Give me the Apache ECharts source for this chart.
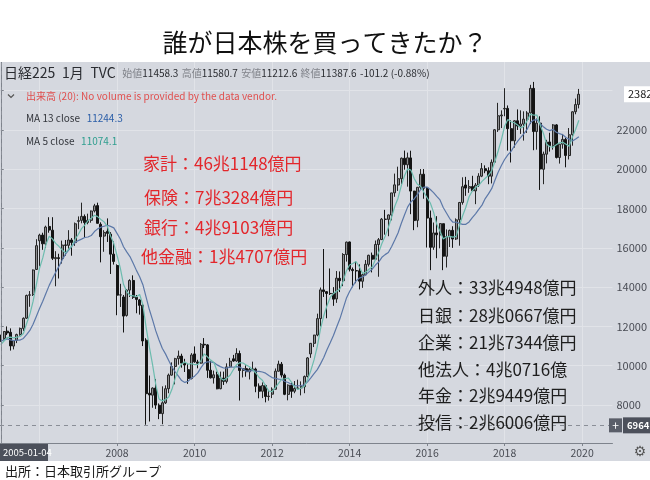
<!DOCTYPE html>
<html><head><meta charset="utf-8">
<script src="https://cdn.jsdelivr.net/npm/echarts@6/dist/echarts.min.js"></script>
<style>html,body{margin:0;padding:0;background:#fff}#c{width:650px;height:480px}</style>
</head><body><div id="c"></div>
<script>
// ---------- DATA (Nikkei 225, monthly, TVC) ----------
const FIRST_YEAR = 2005;
// 2004 closes, needed for the moving averages at the left edge
const priorCloses = [10783.6,11041.9,11715.4,11761.8,11236.4,11858.9,11325.8,11081.8,10823.6,10771.4,10899.3,11488.8];

const opens = [
 11458.3,11390,11760,11700,11000,11290,11590,11900,12420,13590,13620,14900,
 16360,16650,16200,17090,16900,15450,15500,15460,16150,16130,16400,16270,
 17350,17400,17600,17290,17400,17880,18150,17200,16600,16840,16700,15680,
 15100,13600,13500,12560,13850,14340,13480,13350,13080,11300,8600,8500,
 8860,7990,7560,8110,8830,9520,9960,10360,10490,10130,9800,9350,
 10600,10190,10130,11090,11060,9770,9380,9540,8830,9370,9200,9940,
 10350,10240,10620,9760,9850,9690,9820,9830,8960,8700,8990,8430,
 8550,8800,9720,10080,9520,8540,9000,8700,8840,8870,8930,9450,
 10600,11140,11560,12400,13860,13770,13680,13670,13400,14450,14330,15660,
 16300,14900,14840,14830,14300,14630,15160,15620,15420,16170,16420,17460,
 17450,17670,18800,19200,19520,20560,20230,20580,18890,17400,19080,19750,
 19030,17520,16030,16760,16660,17230,15570,16560,16890,16450,17430,18310,
 19200,19040,19120,18900,19200,19650,20030,19925,19650,20360,22010,22720,
 23070,23100,22070,21450,22470,22200,22300,22550,22870,24120,21920,22350,
 20000,20770,21390,21200,22260,20600,21280,21520,20700,21760,22930,23300
];
const highs = [
 11580.7,11760,12000,11900,11300,11630,11940,12460,13620,13800,14900,16440,
 16720,16770,17130,17560,17560,15830,15700,16370,16400,16900,16500,17290,
 17600,18300,17700,17740,17900,18240,18300,17300,16900,17500,16800,16330,
 15160,14170,13600,13900,14400,14600,13600,13400,13150,11400,9500,8900,
 9325,8080,8950,9000,9600,10170,10400,10770,10610,10350,10100,10640,
 10982,10300,11150,11408,11100,10250,9750,9700,9700,9700,10120,10400,
 10550,10890,10770,9870,10017,9890,10207,9900,9100,9150,9030,8760,
 8900,9860,10255,10190,9600,9050,9140,9220,9290,9200,9500,10440,
 11150,11570,12650,13980,15942,13800,14950,14000,14820,14800,15730,16320,
 16320,15000,15300,15160,14700,15380,15650,15760,16374,16500,17520,17935,
 17700,18800,19780,20133,20600,20953,20850,20946,18900,19100,20012,20012,
 19100,17900,17290,17613,17251,17235,16938,16930,17100,17500,18340,19592,
 19615,19450,19668,19300,19800,20318,20200,20100,20500,22050,23382,23000,
 24129,23250,22500,22500,23050,23000,22950,22960,24300,24448,22583,22700,
 20900,21500,21860,22300,22300,21300,21800,21600,22100,22950,23600,24091
];
const lows = [
 11212.6,11290,11560,10770,10830,11150,11530,11770,12380,13000,13550,14880,
 15060,15900,15990,16770,15380,14045,14440,15200,15600,15950,15600,16100,
 16950,17250,16530,17200,17280,17800,17240,15262,15800,16300,14670,15150,
 12570,12990,11690,12500,13500,13400,12670,12600,11000,6995,7160,7860,
 7800,7280,7021,8050,8600,9500,9050,10050,9900,9680,9076,9300,
 10150,9867,10100,10900,9380,9350,9090,8800,8800,9020,9100,9900,
 10200,10200,8227,9400,9440,9300,9770,8650,8340,8350,8135,8220,
 8350,8800,9700,9400,8500,8238,8365,8600,8780,8490,8600,9400,
 10400,10950,11500,12000,13500,12415,13600,13050,13200,13750,14050,15300,
 14800,13995,14200,13885,13964,14600,15050,14750,15400,14529,16400,16672,
 16592,17400,18600,18900,19250,19980,19115,17714,16901,17050,19000,18500,
 16017,14865,15900,15471,15975,14864,15000,16044,16000,16400,16111,18200,
 18650,18800,18900,18224,19100,19600,19800,19240,19280,20350,21900,22100,
 22700,20950,20347,21100,22000,21800,21460,21850,22300,20971,21000,18949,
 19241,20300,20900,21000,20552,20290,21050,20100,20500,21200,22800,23100
];
const closes = [
 11387.6,11740.6,11668.9,11008.9,11276.6,11584.0,11899.6,12413.6,13574.3,13606.5,14872.2,16111.4,
 16649.8,16205.4,17059.7,16906.2,15467.3,15505.2,15456.8,16140.8,16127.6,16399.4,16274.3,17225.8,
 17383.4,17604.1,17287.7,17400.4,17875.8,18138.4,17248.9,16569.1,16785.7,16737.6,15680.7,15307.8,
 13592.5,13603.0,12525.5,13849.9,14338.5,13481.4,13376.8,13072.9,11259.9,8577.0,8512.3,8859.6,
 7994.1,7568.4,8109.5,8828.3,9522.5,9958.4,10356.8,10492.5,10133.2,10034.7,9345.6,10546.4,
 10198.0,10126.0,11089.9,11057.4,9768.7,9382.6,9537.3,8824.1,9369.4,9202.5,9937.0,10228.9,
 10237.9,10624.1,9755.1,9849.7,9693.7,9816.1,9833.0,8955.2,8700.3,8988.4,8434.6,8455.4,
 8802.5,9723.2,10083.6,9520.9,8542.7,9006.8,8695.1,8839.9,8870.2,8928.3,9446.0,10395.2,
 11138.7,11559.4,12397.9,13860.9,13774.5,13677.3,13668.3,13388.9,14455.8,14327.9,15661.9,16291.3,
 14914.5,14841.1,14827.8,14304.1,14632.4,15162.1,15620.8,15424.6,16173.5,16413.8,17459.9,17450.8,
 17674.4,18797.9,19207.0,19520.0,20563.2,20235.7,20585.2,18890.5,17388.2,19083.1,19747.5,19033.7,
 17518.3,16026.8,16758.7,16666.1,17235.0,15575.9,16569.3,16887.4,16449.8,17425.0,18308.5,19114.4,
 19041.3,19119.0,18909.3,19196.7,19650.6,20033.4,19925.2,19646.2,20356.3,22011.6,22725.0,22764.9,
 23098.3,22068.2,21454.3,22467.9,22201.8,22304.5,22553.7,22865.2,24120.0,21920.5,22351.1,20014.8,
 20773.5,21385.2,21205.8,22258.7,20601.2,21275.9,21521.5,20704.4,21755.8,22927.0,23293.9,23820.0
];
const maLengths = [13, 5];
const crosshairPrice = 6964;
const crosshairDate = '2005-01-04';
const xTickYears = [2006, 2008, 2010, 2012, 2014, 2016, 2018, 2020];
const xLabelYears = [2008, 2010, 2012, 2014, 2016, 2018, 2020];
const yTickValues = [8000, 10000, 12000, 14000, 16000, 18000, 20000, 22000, 24000];
const yLabelValues = [8000, 10000, 12000, 14000, 16000, 18000, 20000, 22000];
const titleText = '誰が日本株を買ってきたか？';
const sourceText = '出所：日本取引所グループ';
const volumeText = '出来高 (20): No volume is provided by the data vendor.';
const leftNotes = ['家計：46兆1148億円', '保険：7兆3284億円', '銀行：4兆9103億円', '他金融：1兆4707億円'];
const rightNotes = ['外人：33兆4948億円', '日銀：28兆0667億円', '企業：21兆7344億円', '他法人：4兆0716億', '年金：2兆9449億円', '投信：2兆6006億円'];

// ---------- derived ----------
function sma(n) {
  const all = priorCloses.concat(closes);
  return closes.map((_, i) => {
    const end = i + priorCloses.length;
    let s = 0;
    for (let k = end - n + 1; k <= end; k++) s += all[k];
    return [i, s / n];
  });
}
const ma13 = sma(maLengths[0]);
const ma5 = sma(maLengths[1]);
const candleData = closes.map((c, i) => [i, opens[i], c, lows[i], highs[i]]);
const toMonth = y => (y - FIRST_YEAR) * 12;

const FONT = '"Noto Sans CJK JP", "Noto Sans", sans-serif';
const BG = '#d5d8df';
const GRIDLINE = '#e1e3e8';
const AXIS = '#7e838c';
const GRID = { left: 0, right: 27, top: 62, bottom: 37 };

const chart = echarts.init(document.getElementById('c'), null, { renderer: 'canvas', width: 650, height: 480 });
chart.setOption({
  animation: false,
  backgroundColor: BG,
  grid: GRID,
  xAxis: {
    type: 'value', min: -0.24, max: 189.4,
    axisLine: { show: true, onZero: false, lineStyle: { color: AXIS } },
    axisTick: { show: true, customValues: xTickYears.map(toMonth), length: 3, lineStyle: { color: AXIS } },
    axisLabel: { customValues: xLabelYears.map(toMonth), formatter: v => String(FIRST_YEAR + Math.round(v / 12)),
      color: '#4a4d55', fontSize: 10.5, fontFamily: FONT, margin: 5 },
    splitLine: { show: true, lineStyle: { color: GRIDLINE, width: 1 } }
  },
  yAxis: {
    type: 'value', position: 'right', min: 6065, max: 25462,
    axisLine: { show: true, lineStyle: { color: AXIS } },
    axisTick: { show: true, inside: false, customValues: yTickValues, length: 3, lineStyle: { color: AXIS } },
    axisLabel: { customValues: yLabelValues, formatter: v => String(v), color: '#4a4d55', fontSize: 11, fontFamily: FONT, margin: 4 },
    splitLine: { show: true, lineStyle: { color: GRIDLINE, width: 1 } }
  },
  series: [
    {
      type: 'candlestick', data: candleData, barWidth: 2.5, clip: true,
      itemStyle: { color: '#8e8f92', color0: '#141414', borderColor: '#262626', borderColor0: '#141414', borderWidth: 1 },
      markLine: {
        silent: true, symbol: 'none', animation: false,
        lineStyle: { color: '#8a8e97', type: [4, 4], width: 1 },
        label: { show: false },
        data: [{ yAxis: crosshairPrice }, { xAxis: 0 }]
      },
      z: 3
    },
    { type: 'line', data: ma13, showSymbol: false, lineStyle: { color: '#5c78a8', width: 1.2 }, z: 4 },
    { type: 'line', data: ma5, showSymbol: false, lineStyle: { color: '#6cbcae', width: 1.2 }, z: 4 }
  ]
});

const P = (x, y) => chart.convertToPixel({ gridIndex: 0 }, [x, y]);
const axisX = 650 - GRID.right;
const axisBottom = 480 - GRID.bottom;
const yLast = P(0, closes[closes.length - 1])[1];
const yCross = P(0, crosshairPrice)[1];
const fmt1 = v => v.toFixed(1);
const chg = closes[0] - priorCloses[priorCloses.length - 1];
const pct = chg / priorCloses[priorCloses.length - 1] * 100;

const g = [];
g.push({ type: 'rect', shape: { x: 0, y: 0, width: 650, height: GRID.top }, style: { fill: '#fff' }, z: 50 });
g.push({ type: 'rect', shape: { x: 0, y: 461, width: 650, height: 19 }, style: { fill: '#fff' }, z: 50 });
g.push({ type: 'text', x: 325, y: 42, z: 60, style: { text: titleText, fill: '#111', font: '25px ' + FONT, align: 'center', verticalAlign: 'middle' } });
g.push({ type: 'text', x: 4, y: 73, z: 60, style: {
  text: '{a|日経225}  {a|1月}  {a|TVC}  {l|始値}{v|' + fmt1(opens[0]) + '} {l|高値}{v|' + fmt1(highs[0]) + '} {l|安値}{v|' + fmt1(lows[0]) + '} {l|終値}{v|' + fmt1(closes[0]) + '} {v|' + fmt1(chg) + ' (' + pct.toFixed(2) + '%)}',
  verticalAlign: 'middle',
  rich: {
    a: { fontSize: 14, fontFamily: FONT, fill: '#2a2c31' },
    l: { fontSize: 10, fontFamily: FONT, fill: '#80838a' },
    v: { fontSize: 10, fontFamily: FONT, fill: '#2a2c31' }
  } } });
g.push({ type: 'polyline', z: 60, shape: { points: [[8, 94.5], [11, 97.5], [14, 94.5]] }, style: { stroke: '#555', lineWidth: 1.2, fill: null } });
g.push({ type: 'text', x: 26, y: 96, z: 60, style: { text: volumeText, fill: '#e0504f', font: '10px ' + FONT, verticalAlign: 'middle' } });
g.push({ type: 'text', x: 26, y: 118, z: 60, style: {
  text: '{l|MA ' + maLengths[0] + ' close}  {v|' + fmt1(ma13[0][1]) + '}', verticalAlign: 'middle',
  rich: { l: { fontSize: 10, fontFamily: FONT, fill: '#33363c' }, v: { fontSize: 10, fontFamily: FONT, fill: '#2b5ea8' } } } });
g.push({ type: 'text', x: 26, y: 141, z: 60, style: {
  text: '{l|MA ' + maLengths[1] + ' close}  {v|' + fmt1(ma5[0][1]) + '}', verticalAlign: 'middle',
  rich: { l: { fontSize: 10, fontFamily: FONT, fill: '#33363c' }, v: { fontSize: 10, fontFamily: FONT, fill: '#2f9e8f' } } } });
const leftXY = [[143, 164], [144, 198], [144, 228], [141, 257]];
leftNotes.forEach((t, i) => g.push({ type: 'text', x: leftXY[i][0], y: leftXY[i][1], z: 60,
  style: { text: t, fill: '#e3262b', font: '17px ' + FONT, verticalAlign: 'middle' } }));
const rightY = [288, 316, 343, 370, 396, 423];
rightNotes.forEach((t, i) => g.push({ type: 'text', x: 418, y: rightY[i], z: 60,
  style: { text: t, fill: '#1e1e1e', font: '17px ' + FONT, verticalAlign: 'middle' } }));
// last price label
g.push({ type: 'rect', z: 60, shape: { x: axisX + 1, y: yLast - 8, width: 30, height: 16 }, style: { fill: '#fff' } });
g.push({ type: 'text', x: axisX + 5, y: yLast, z: 61, style: { text: String(Math.round(closes[closes.length - 1])), fill: '#222', font: '11px ' + FONT, verticalAlign: 'middle' } });
// crosshair price label
g.push({ type: 'rect', z: 60, shape: { x: axisX - 14, y: yCross - 7, width: 13, height: 14 }, style: { fill: '#5a5e69' } });
g.push({ type: 'text', x: axisX - 7.5, y: yCross, z: 61, style: { text: '+', fill: '#fff', font: '12px ' + FONT, align: 'center', verticalAlign: 'middle' } });
g.push({ type: 'rect', z: 60, shape: { x: axisX, y: yCross - 8, width: 30, height: 16 }, style: { fill: '#4c505b' } });
g.push({ type: 'text', x: axisX + 4, y: yCross, z: 61, style: { text: String(crosshairPrice), fill: '#fff', font: 'bold 9.5px ' + FONT, verticalAlign: 'middle' } });
// crosshair date label
g.push({ type: 'rect', z: 60, shape: { x: 0, y: axisBottom + 1, width: 48, height: 17 }, style: { fill: '#4c505b' } });
g.push({ type: 'text', x: 3, y: axisBottom + 9.5, z: 61, style: { text: crosshairDate, fill: '#fff', font: '9.5px ' + FONT, verticalAlign: 'middle' } });
// gear
g.push({ type: 'text', x: 640, y: axisBottom + 9, z: 61, style: { text: '\u2699', fill: '#555', font: '14px "DejaVu Sans"', align: 'center', verticalAlign: 'middle' } });
// source
g.push({ type: 'text', x: 5, y: 471, z: 60, style: { text: sourceText, fill: '#1a1a1a', font: '13px ' + FONT, verticalAlign: 'middle' } });

chart.setOption({ graphic: g });
</script>
</body></html>
